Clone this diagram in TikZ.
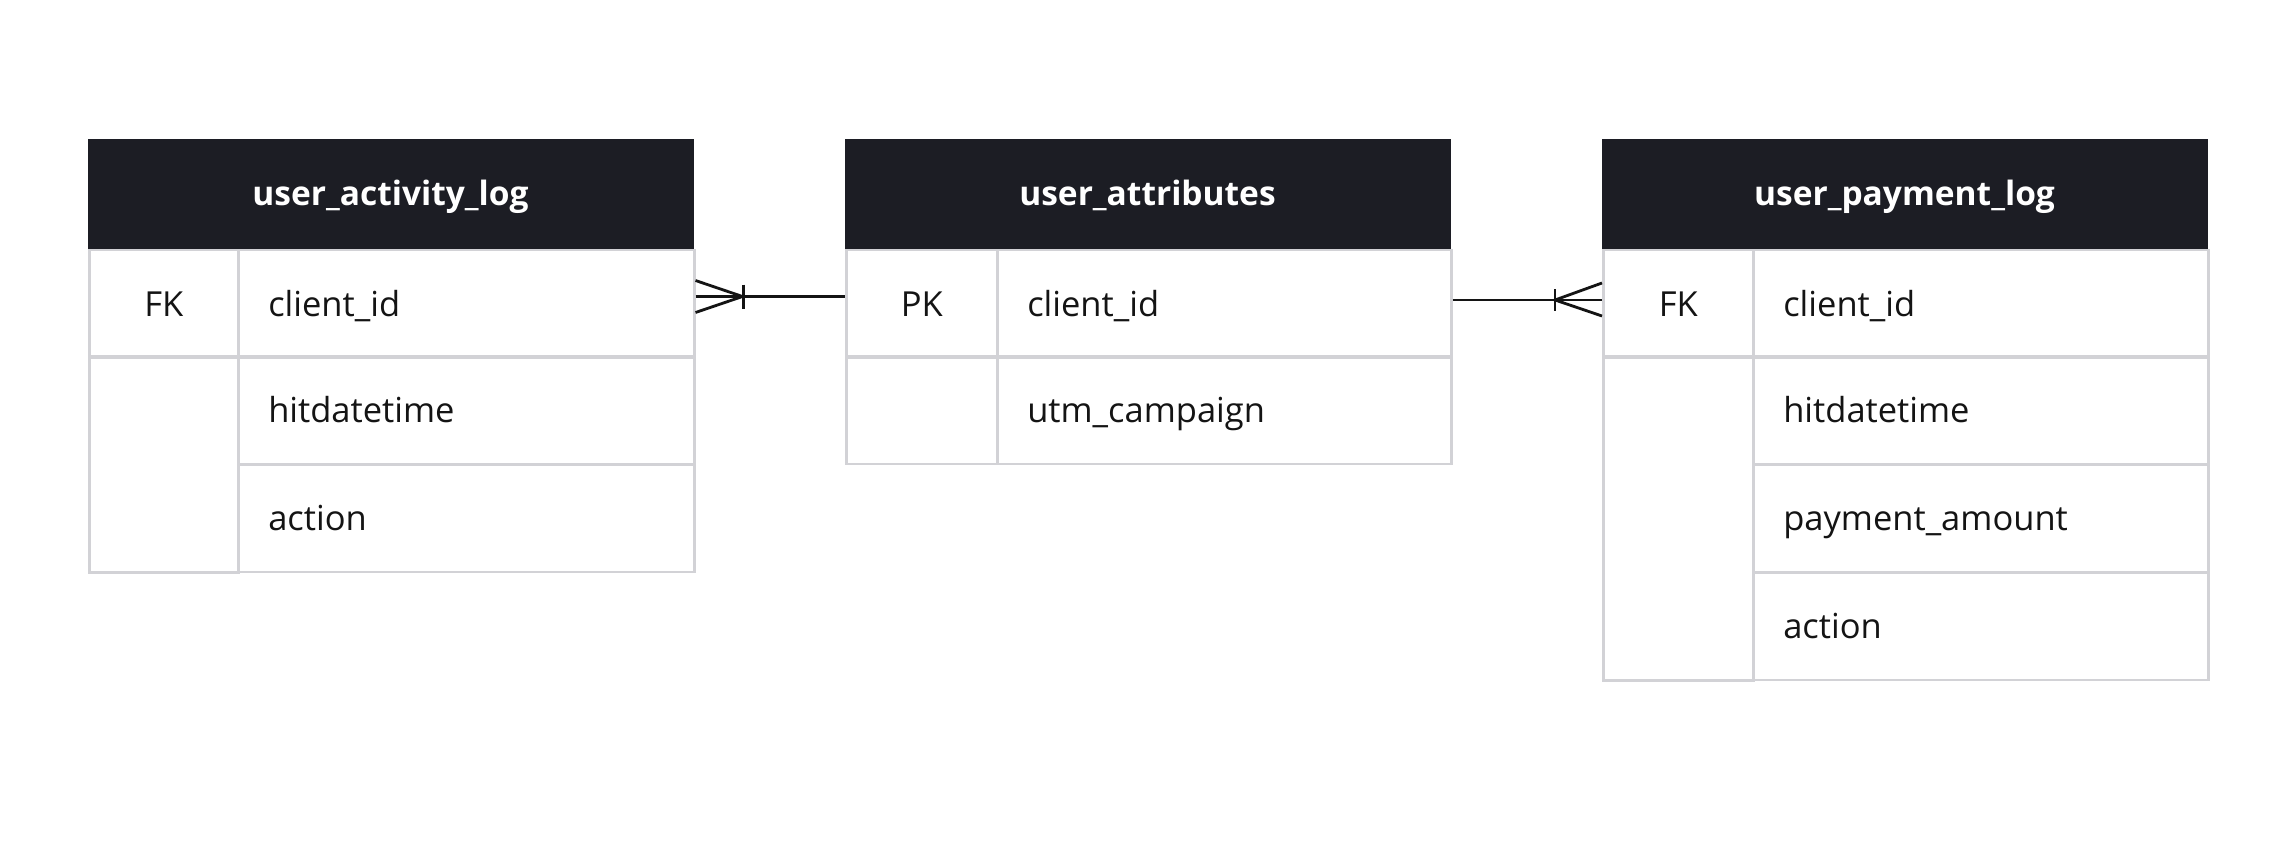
\documentclass[tikz,border=0pt]{standalone}
\usepackage{fontspec}
\setmainfont{Open Sans}
\usetikzlibrary{calc}
\definecolor{hdr}{HTML}{1C1D24}
\definecolor{gridc}{HTML}{D2D2D6}
\definecolor{ink}{HTML}{141414}
\begin{document}
\begin{tikzpicture}[x=1pt,y=-1pt,
 txt/.style={font=\fontsize{34.5}{41}\selectfont, text=ink, text height=29pt, text depth=4pt},
 hdrbox/.style={fill=hdr, draw=hdr, line width=0pt, anchor=north west, minimum width=605pt, minimum height=109.5pt, inner sep=0, text=white, font=\fontsize{33.5}{40}\selectfont\bfseries, text height=28pt, text depth=4pt},
 keycell/.style={txt, draw=gridc, line width=2.5pt, anchor=north west, minimum width=149pt, minimum height=107.5pt, inner sep=0},
 valcell/.style={txt, draw=gridc, line width=2.5pt, anchor=north west, text width=396pt, inner xsep=30pt, inner ysep=0pt, minimum height=107.5pt, align=left},
 rel/.style={draw=ink, line width=2.8pt}
]
\useasboundingbox (0,0) rectangle (2292,843);
\fill[white] (0,0) rectangle (2292,843);

% Table 1: user_activity_log
\node[keycell] (t1k1) at (88,248.5) {FK};
\node[keycell, minimum height=216pt] (t1k2) at (88,355) {};
\node[valcell] (t1v1) at (237,248.5) {client\_id};
\node[valcell] (t1v2) at (237,355) {hitdatetime};
\node[valcell] (t1v3) at (237,463) {action};
\node[hdrbox] (t1h) at (88,139) {user\_activity\_log};

% Table 2: user_attributes
\node[keycell, minimum width=151pt] (t2k1) at (845,248.5) {PK};
\node[keycell, minimum width=151pt] (t2k2) at (845,355) {};
\node[valcell, text width=394pt] (t2v1) at (996,248.5) {client\_id};
\node[valcell, text width=394pt] (t2v2) at (996,355) {utm\_campaign};
\node[hdrbox] (t2h) at (845,139) {user\_attributes};

% Table 3: user_payment_log
\node[keycell, minimum width=150pt] (t3k1) at (1602,248.5) {FK};
\node[keycell, minimum width=150pt, minimum height=324pt] (t3k2) at (1602,355) {};
\node[valcell, text width=395pt] (t3v1) at (1752,248.5) {client\_id};
\node[valcell, text width=395pt] (t3v2) at (1752,355) {hitdatetime};
\node[valcell, text width=395pt] (t3v3) at (1752,463) {payment\_amount};
\node[valcell, text width=395pt] (t3v4) at (1752,571) {action};
\node[hdrbox] (t3h) at (1602,139) {user\_payment\_log};

% Relationship 1: user_activity_log (many) -- user_attributes (one)
\coordinate (r1a) at ([yshift=7pt]t1v1.east);
\coordinate (r1b) at (r1a -| t2k1.west);
\coordinate (r1apex) at ($(r1a)+(47,0)$);
\draw[rel] (r1a) -- (r1b);
\draw[rel] ($(r1a)+(0,-16)$) -- (r1apex) -- ($(r1a)+(0,16)$);
\draw[rel] ($(r1apex)+(1,-12)$) -- ($(r1apex)+(1,12)$);

% Relationship 2: user_attributes (one) -- user_payment_log (many)
\coordinate (r2a) at ([yshift=3.5pt]t2v1.east);
\coordinate (r2b) at (r2a -| t3k1.west);
\coordinate (r2apex) at ($(r2b)+(-47,0)$);
\draw[rel] (r2a) -- (r2b);
\draw[rel] ($(r2b)+(0,-17)$) -- (r2apex) -- ($(r2b)+(0,16)$);
\draw[rel] ($(r2apex)+(0,-11)$) -- ($(r2apex)+(0,11)$);
\end{tikzpicture}
\end{document}
